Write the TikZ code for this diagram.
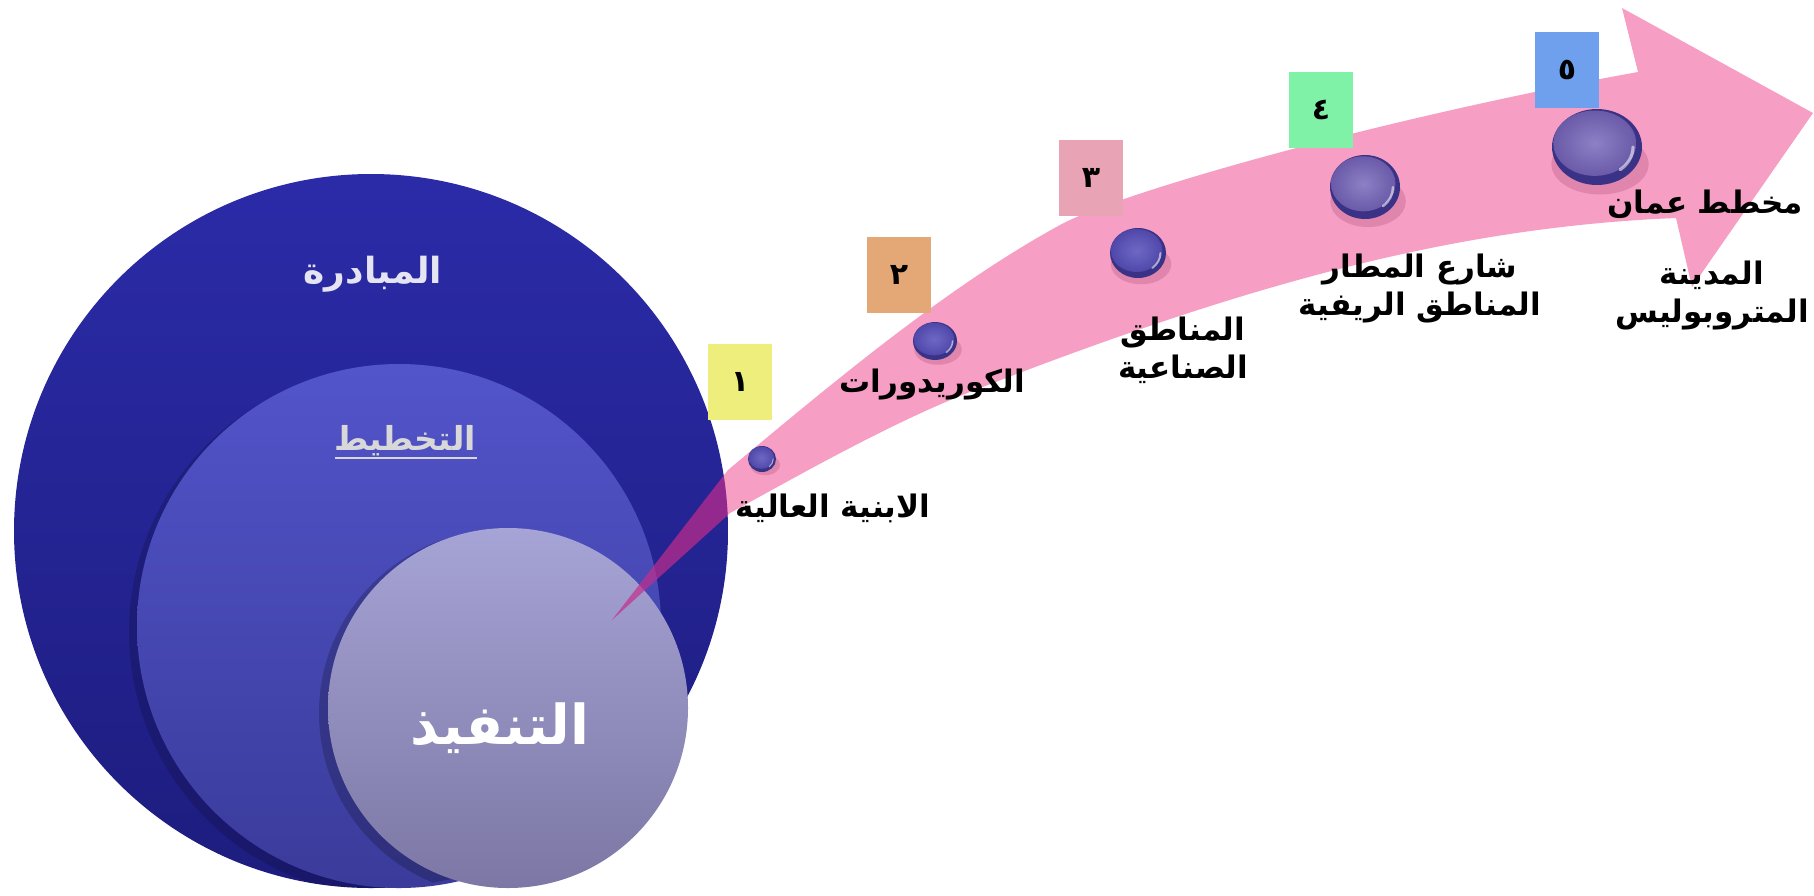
\documentclass[tikz,border=0pt]{standalone}
\usepackage{fontspec}
\newfontfamily\arabicfont[Script=Arabic]{DejaVu Sans}
\TeXXeTstate=1
\usetikzlibrary{shapes.geometric}
\definecolor{outerTop}{HTML}{2B2BA8}
\definecolor{outerBot}{HTML}{1D1C7E}
\definecolor{midTop}{HTML}{5254CA}
\definecolor{midBot}{HTML}{3A3B9A}
\definecolor{innTop}{HTML}{A6A4D6}
\definecolor{innBot}{HTML}{7C77A4}
\definecolor{arrowpink}{HTML}{EE468C}
\definecolor{tailmag}{HTML}{A0148C}
\definecolor{shadowpink}{HTML}{B0507A}
\definecolor{cOne}{HTML}{EEEE7C}
\definecolor{cTwo}{HTML}{E3A876}
\definecolor{cThree}{HTML}{E8A4B4}
\definecolor{cFour}{HTML}{80F2A8}
\definecolor{cFive}{HTML}{6FA0EE}
\definecolor{dDark}{HTML}{3A3286}
\definecolor{dMidA}{HTML}{4F48AA}
\definecolor{dLightA}{HTML}{6E68C4}
\definecolor{dMidB}{HTML}{6A5AA8}
\definecolor{dLightB}{HTML}{8E80C6}
\definecolor{txtA}{HTML}{E4E4F2}
\definecolor{txtB}{HTML}{D8D8D8}
\newcommand\mydisc[7]{%
  \fill[shadowpink, opacity=.3] (#2+3,#3+0.45*#5) ellipse [x radius=1.08*#4, y radius=0.8*#5];
  \node[ellipse, minimum width=2*#4, minimum height=2*#5, inner sep=0pt, fill=dDark] (#1) at (#2,#3) {};
  \shade[inner color=#7, outer color=#6] (#2-0.05*#4,#3-0.1*#5) ellipse [x radius=0.92*#4, y radius=0.86*#5];
  \draw[white, opacity=.55, line width=0.07*#4, line cap=round] (#2,#3) ++(0:{0.8*#4} and {0.78*#5}) arc[start angle=0, end angle=50, x radius=0.8*#4, y radius=0.78*#5];
}
\newcommand\arrowpath{(612,620) -- (728,470) .. controls (838,378) and (950,285) .. (1060,225) .. controls (1120,192) and (1388,117) .. (1638,72) -- (1622,8) -- (1813,113) -- (1692,287) -- (1676,218) .. controls (1456,227) and (1250,283) .. (975,390) .. controls (895,421) and (810,469) .. (730,513) -- cycle}
\tikzset{
  numbox/.style={minimum width=64pt, minimum height=76pt, inner sep=0pt, font=\arabicfont\bfseries\fontsize{30}{30}\selectfont, text=black},
  lbl/.style={font=\arabicfont\bfseries\fontsize{31}{38}\selectfont, text=black, align=center, inner sep=0pt},
  clbl/.style={font=\arabicfont\bfseries\fontsize{36}{40}\selectfont, inner sep=0pt}
}
\begin{document}
\begin{tikzpicture}[x=1pt,y=-1pt]
\useasboundingbox (0,0) rectangle (1814,895);
\fill[white] (0,0) rectangle (1814,895);
% circles
\node[circle, minimum size=714pt, inner sep=0pt, top color=outerTop, bottom color=outerBot] (outer) at (371,531) {};
\begin{scope}
  \clip (371,531) circle (357);
  \fill[black, opacity=.16] (393,632) circle (264);
\end{scope}
\node[circle, minimum size=524pt, inner sep=0pt, top color=midTop, bottom color=midBot] (middle) at (399,626) {};
\begin{scope}
  \clip (371,531) circle (357);
  \fill[black, opacity=.2] (502,713) circle (183);
\end{scope}
\node[circle, minimum size=360pt, inner sep=0pt, top color=innTop, bottom color=innBot] (inner) at (508,708) {};
% arrow
\fill[arrowpink, fill opacity=0.52] \arrowpath;
\begin{scope}
  \clip (371,531) circle (357);
  \fill[tailmag, fill opacity=0.35] \arrowpath;
\end{scope}
% circle labels
\node[clbl, text=txtA] (lA) at (373,274) {\beginR المبادرة\endR};
\node[clbl, text=txtB, font=\arabicfont\bfseries\fontsize{33}{38}\selectfont] (lB) at (405,441) {\beginR التخطيط\endR};
\draw[txtB, line width=2.5pt] (335,458) -- (477,458);
\node[clbl, text=white, font=\arabicfont\bfseries\fontsize{55}{60}\selectfont] (lC) at (500,728) {\beginR التنفيذ\endR};
% boxes
\node[numbox, fill=cOne] (b1) at (740,382) {١};
\node[numbox, fill=cTwo] (b2) at (899,275) {٢};
\node[numbox, fill=cThree] (b3) at (1091,178) {٣};
\node[numbox, fill=cFour] (b4) at (1321,110) {٤};
\node[numbox, fill=cFive] (b5) at (1567,70) {٥};
% discs
\mydisc{d1}{762}{459}{14}{13}{dMidA}{dLightA}
\mydisc{d2}{935}{341}{22}{19}{dMidA}{dLightA}
\mydisc{d3}{1138}{253}{28}{25}{dMidA}{dLightA}
\mydisc{d4}{1365}{187}{35}{32}{dMidB}{dLightB}
\mydisc{d5}{1597}{147}{45}{38}{dMidB}{dLightB}
% labels
\node[lbl] (t1) at (833,508) {\beginR الابنية العالية\endR};
\node[lbl] (t2) at (932,384) {\beginR الكوريدورات\endR};
\node[lbl] (t3) at (1183,350) {\beginR المناطق\endR\\\beginR الصناعية\endR};
\node[lbl] (t4) at (1420,289) {\beginR شارع المطار\endR\\\beginR المناطق الريفية\endR};
\node[lbl] (t5) at (1705,204) {\beginR مخطط عمان\endR};
\node[lbl] (t6) at (1712,295) {\beginR المدينة\endR\\\beginR المتروبوليس\endR};
\end{tikzpicture}
\end{document}
